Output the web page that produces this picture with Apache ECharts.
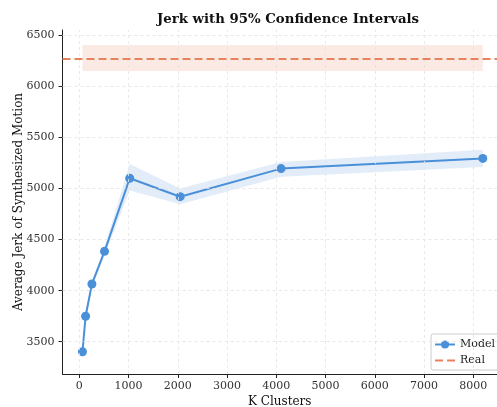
<!DOCTYPE html>
<html><head><meta charset="utf-8">
<script src="https://cdn.jsdelivr.net/npm/echarts@6/dist/echarts.min.js"></script>
<style>html,body{margin:0;padding:0;background:#fff}#c{width:497px;height:407px}</style>
</head><body><div id="c"></div>
<script>
var kClusters = [64, 128, 256, 512, 1024, 2048, 4096, 8192];
var modelJerk = [3402, 3749, 4065, 4385, 5100, 4920, 5195, 5295];
var modelLower = [3360, 3715, 4035, 4345, 4980, 4845, 5115, 5210];
var modelUpper = [3445, 3785, 4095, 4425, 5240, 5000, 5260, 5380];
var realJerk = 6275;
var realLower = 6150;
var realUpper = 6405;
var xTicks = [0, 1000, 2000, 3000, 4000, 5000, 6000, 7000, 8000];
var yTicks = [3500, 4000, 4500, 5000, 5500, 6000, 6500];

var FONT = 'DejaVu Serif';
var BLUE = '#4a90d9';
var ORANGE = '#e8825c';

function bandItem(lows, highs, xs, fill) {
  return function (params, api) {
    var pts = [];
    for (var i = 0; i < xs.length; i++) pts.push(api.coord([xs[i], highs[i]]));
    for (var j = xs.length - 1; j >= 0; j--) pts.push(api.coord([xs[j], lows[j]]));
    return {type: 'polygon', shape: {points: pts}, style: {fill: fill}, silent: true};
  };
}
function plain(v) { return String(v); }

var gridLines = xTicks.map(function (v) { return {xAxis: v}; })
  .concat(yTicks.map(function (v) { return {yAxis: v}; }));

var chart = echarts.init(document.getElementById('c'), null, {renderer: 'canvas'});
var axisCommon = {
  axisLine: {show: true, onZero: false, lineStyle: {color: '#222', width: 1}},
  axisTick: {show: true, length: 4, lineStyle: {color: '#222'}},
  axisLabel: {color: '#333', fontFamily: FONT, fontSize: 11, formatter: plain},
  splitLine: {show: false},
  nameMoveOverlap: false,
  nameTextStyle: {color: '#111', fontFamily: FONT, fontSize: 12}
};
chart.setOption({
  animation: false,
  title: {text: 'Jerk with 95% Confidence Intervals', left: 283, top: 8, textAlign: 'center',
    textStyle: {fontFamily: FONT, fontWeight: 'bold', fontSize: 13.3, color: '#111'}},
  grid: {left: 62.5, right: 0, top: 30, bottom: 33, containLabel: false, outerBoundsMode: 'none'},
  legend: {right: -8, bottom: 37, orient: 'vertical', itemWidth: 20, itemHeight: 10, itemGap: 5,
    backgroundColor: 'rgba(255,255,255,0.85)', borderColor: '#ccc', borderWidth: 1, borderRadius: 2,
    padding: [5, 10, 4, 3],
    textStyle: {fontFamily: FONT, fontSize: 11, color: '#222'},
    data: ['Model', {name: 'Real', itemStyle: {opacity: 0}}]},
  xAxis: Object.assign({}, axisCommon, {
    type: 'value', min: -341, max: 8480,
    name: 'K Clusters', nameLocation: 'middle', nameGap: 22,
    axisTick: Object.assign({}, axisCommon.axisTick, {customValues: xTicks}),
    axisLabel: Object.assign({}, axisCommon.axisLabel, {customValues: xTicks, margin: 7})
  }),
  yAxis: Object.assign({}, axisCommon, {
    type: 'value', min: 3184, max: 6552,
    name: 'Average Jerk of Synthesized Motion', nameLocation: 'middle', nameGap: 38,
    axisTick: Object.assign({}, axisCommon.axisTick, {customValues: yTicks}),
    axisLabel: Object.assign({}, axisCommon.axisLabel, {customValues: yTicks, margin: 8})
  }),
  series: [
    {type: 'line', name: 'gridlines', data: [], z: 0,
      markLine: {silent: true, symbol: 'none', label: {show: false}, animation: false,
        lineStyle: {color: '#e4e4e4', type: [3, 3], width: 0.8}, data: gridLines}},
    {type: 'custom', name: 'realBand', renderItem: bandItem([realLower, realLower], [realUpper, realUpper],
      [kClusters[0], kClusters[kClusters.length - 1]], 'rgba(232,130,92,0.17)'),
      data: [[kClusters[0], realLower]], z: 1},
    {type: 'custom', name: 'modelBand', renderItem: bandItem(modelLower, modelUpper, kClusters, 'rgba(74,144,217,0.16)'),
      data: [[kClusters[0], modelLower[0]]], z: 1},
    {type: 'line', name: 'Real', data: [], symbol: 'none', color: ORANGE,
      lineStyle: {color: ORANGE, width: 2, type: [8, 4]},
      markLine: {silent: true, symbol: 'none', label: {show: false},
        lineStyle: {color: ORANGE, width: 2, type: [8, 4]},
        data: [{yAxis: realJerk}]}, z: 3},
    {type: 'line', name: 'Model', data: kClusters.map(function (k, i) { return [k, modelJerk[i]]; }),
      color: BLUE, symbol: 'circle', symbolSize: 9, lineStyle: {color: BLUE, width: 2},
      itemStyle: {color: BLUE}, z: 4}
  ]
});
</script></body></html>
